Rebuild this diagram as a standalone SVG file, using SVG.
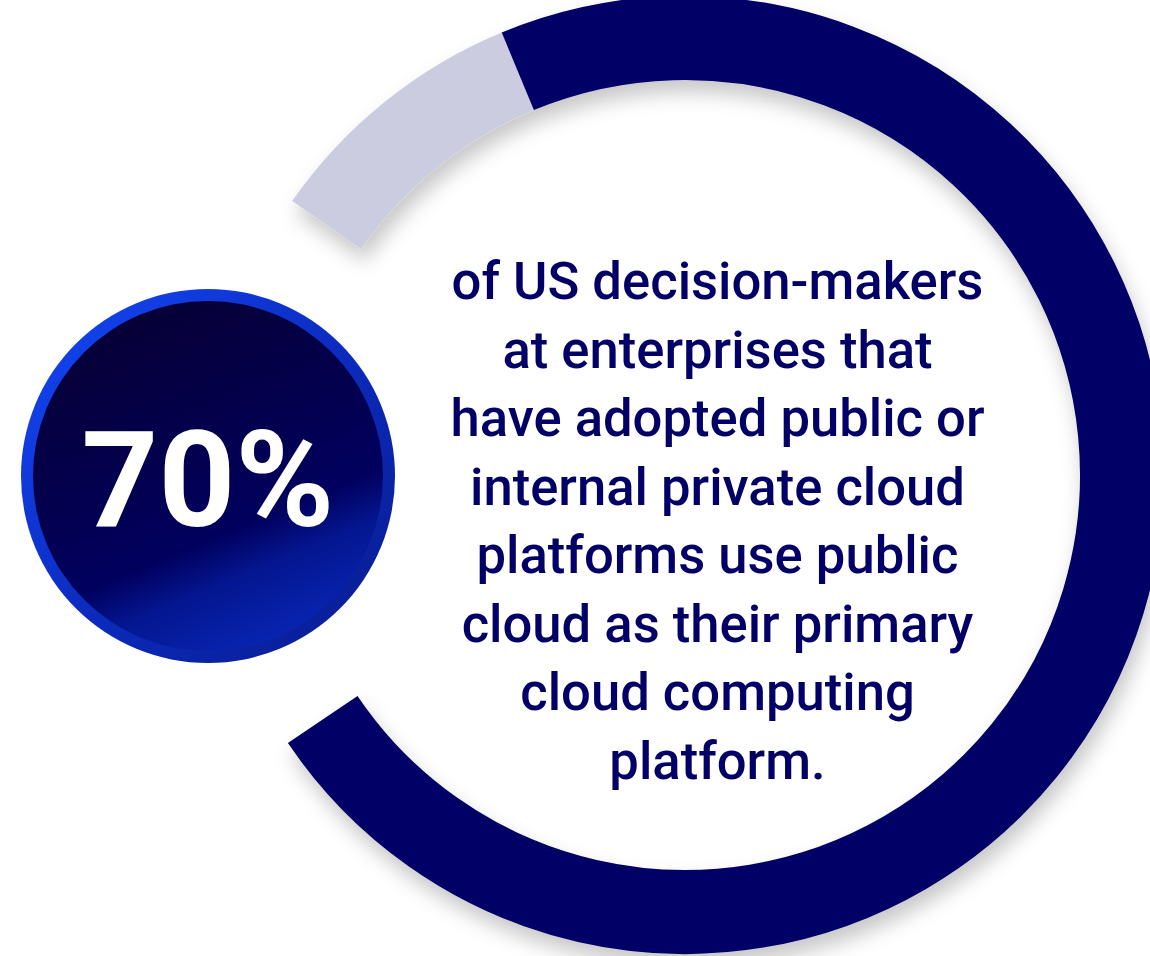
<svg xmlns="http://www.w3.org/2000/svg" width="1150" height="956" viewBox="0 0 1150 956">
  <style>
    .seg { fill: none; stroke-width: 84; stroke-linecap: butt; }
    .body { font-family: Roboto, "Liberation Sans", Arial, sans-serif; font-weight: 500; font-size: 52.6px; fill: #020066; text-anchor: middle; }
    .pct { font-family: Roboto, "Liberation Sans", Arial, sans-serif; font-weight: 700; font-size: 134px; fill: #ffffff; text-anchor: middle; }
  </style>
  <defs>
    <filter id="shadow" x="-20%" y="-20%" width="140%" height="140%">
      <feDropShadow dx="4" dy="12" stdDeviation="10" flood-color="#000000" flood-opacity="0.22"/>
    </filter>
    <linearGradient id="rimGrad" x1="0" y1="0" x2="1" y2="1">
      <stop offset="0" stop-color="#1448f8"/>
      <stop offset="0.5" stop-color="#0c2cc0"/>
      <stop offset="1" stop-color="#081a8c"/>
    </linearGradient>
    <linearGradient id="coreGrad" x1="0.25" y1="0" x2="0.75" y2="1.2">
      <stop offset="0" stop-color="#070033"/>
      <stop offset="0.56" stop-color="#01005e"/>
      <stop offset="0.66" stop-color="#041690"/>
      <stop offset="1" stop-color="#0b34d8"/>
    </linearGradient>
  </defs>
  <rect width="1150" height="956" fill="#ffffff"/>

  <g id="ring" filter="url(#shadow)">
    <path id="ring-remainder" class="seg" stroke="#cbcce0" d="M 326.6 225 A 437 437 0 0 1 517.8 71.3"/>
    <path id="ring-value" class="seg" stroke="#020066" d="M 517.8 71.3 A 437 437 0 1 1 322.7 719.4"/>
  </g>

  <g id="badge">
    <circle cx="208" cy="476" r="187" fill="url(#rimGrad)"/>
    <circle cx="208" cy="476" r="175" fill="url(#coreGrad)"/>
    <text class="pct" x="208" y="526">70%</text>
  </g>

  <g id="statement">
    <text class="body" x="717.5" y="299">of US decision-makers</text>
    <text class="body" x="717.5" y="367.5">at enterprises that</text>
    <text class="body" x="717.5" y="436">have adopted public or</text>
    <text class="body" x="717.5" y="504.5">internal private cloud</text>
    <text class="body" x="717.5" y="573">platforms use public</text>
    <text class="body" x="717.5" y="641.5">cloud as their primary</text>
    <text class="body" x="717.5" y="710">cloud computing</text>
    <text class="body" x="717.5" y="778.5">platform.</text>
  </g>
</svg>
